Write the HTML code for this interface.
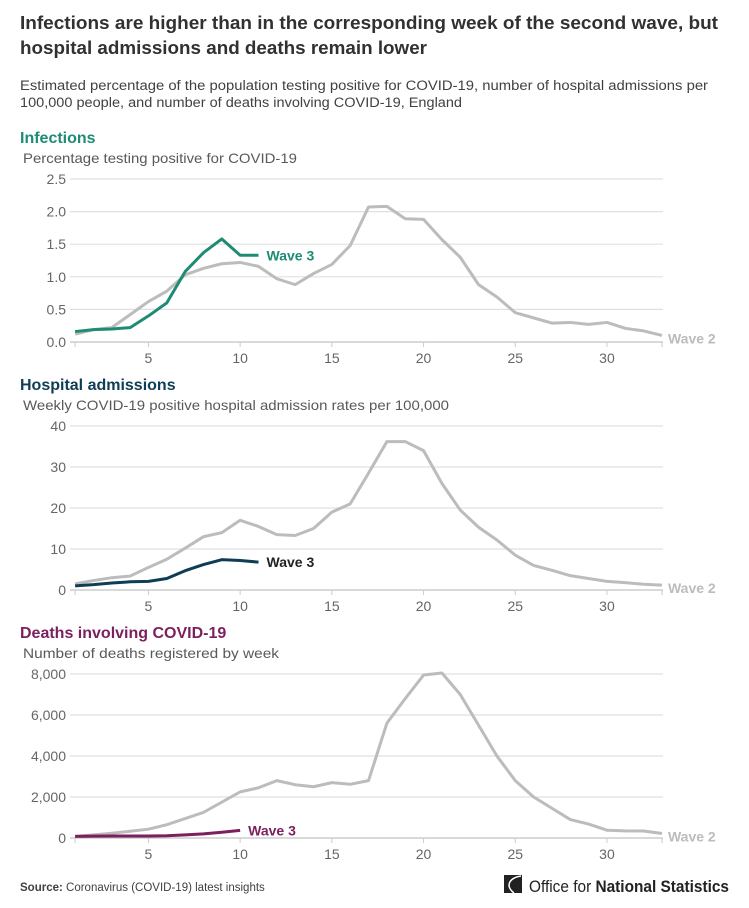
<!DOCTYPE html>
<html><head><meta charset="utf-8"><style>
html,body{margin:0;padding:0;background:#fff;}
svg{display:block;font-family:"Liberation Sans",sans-serif;}
</style></head><body>
<svg id="chart" width="749" height="908" viewBox="0 0 749 908" xmlns="http://www.w3.org/2000/svg">
<text x="20" y="29" font-size="18" font-weight="bold" fill="#323132" textLength="698" lengthAdjust="spacingAndGlyphs">Infections are higher than in the corresponding week of the second wave, but</text>
<text x="20" y="54" font-size="18" font-weight="bold" fill="#323132" textLength="407" lengthAdjust="spacingAndGlyphs">hospital admissions and deaths remain lower</text>
<text x="20" y="90" font-size="13.5" fill="#414042" textLength="688" lengthAdjust="spacingAndGlyphs">Estimated percentage of the population testing positive for COVID-19, number of hospital admissions per</text>
<text x="20" y="107" font-size="13.5" fill="#414042" textLength="442" lengthAdjust="spacingAndGlyphs">100,000 people, and number of deaths involving COVID-19, England</text>
<g id="panels"></g>
<text x="20" y="891" font-size="11.5" fill="#414042"><tspan font-weight="bold">Source:</tspan> Coronavirus (COVID-19) latest insights</text>
<g>
<rect x="504" y="875" width="18" height="18" fill="#222"/>
<path d="M521 876 C509 878 505 886 514 893" stroke="#fff" stroke-width="1.5" fill="none"/>
<text x="529" y="892" font-size="17" fill="#222" textLength="200" lengthAdjust="spacingAndGlyphs">Office for <tspan font-weight="bold">National Statistics</tspan></text>
</g>
</svg>
<script>
const weeks = [1,2,3,4,5,6,7,8,9,10,11,12,13,14,15,16,17,18,19,20,21,22,23,24,25,26,27,28,29,30,31,32,33];
const xTicks = [5,10,15,20,25,30];
const infWave2 = [0.12,0.19,0.22,0.42,0.62,0.78,1.03,1.13,1.2,1.22,1.16,0.97,0.88,1.05,1.19,1.48,2.07,2.08,1.89,1.88,1.57,1.3,0.88,0.69,0.45,0.37,0.29,0.30,0.27,0.30,0.21,0.17,0.1];
const infWave3 = [0.16,0.19,0.2,0.22,0.4,0.6,1.08,1.37,1.58,1.33,1.33];
const infTicks = [0,0.5,1.0,1.5,2.0,2.5];
const infTickLabels = ["0.0","0.5","1.0","1.5","2.0","2.5"];
const hospWave2 = [1.5,2.3,3,3.4,5.5,7.5,10.2,13,14,17,15.5,13.5,13.3,15,19,21,28.5,36.2,36.2,34,26,19.5,15.3,12.2,8.5,6,4.8,3.5,2.8,2.1,1.8,1.4,1.2];
const hospWave3 = [1,1.3,1.7,2,2.1,2.8,4.7,6.2,7.4,7.2,6.8];
const hospTicks = [0,10,20,30,40];
const hospTickLabels = ["0","10","20","30","40"];
const deathWave2 = [80,150,230,330,430,650,950,1250,1750,2250,2450,2800,2600,2500,2700,2620,2800,5600,6800,7950,8050,7000,5500,4000,2800,2000,1450,900,680,380,350,340,220];
const deathWave3 = [80,90,100,100,100,110,150,200,280,370];
const deathTicks = [0,2000,4000,6000,8000];
const deathTickLabels = ["0","2,000","4,000","6,000","8,000"];

const NS="http://www.w3.org/2000/svg";
const root=document.getElementById('panels');
function mk(tag,attrs,parent){const e=document.createElementNS(NS,tag);for(const k in attrs)e.setAttribute(k,attrs[k]);(parent||root).appendChild(e);return e;}
const X=w=>75.1+(w-1)*18.34;

function panel(o){
  const g=mk('g',{});
  
  
  const ymax=o.ticks[o.ticks.length-1];
  const Y=v=>o.y0-(v/ymax)*(o.y0-o.yTop);
  let t=mk('text',{x:20,y:o.titleY,'font-size':16,'font-weight':'bold',fill:o.color},g);t.textContent=o.title;
  
  
  t=mk('text',{x:23,y:o.titleY+20,'font-size':14,fill:'#58595b',textLength:o.subLen,lengthAdjust:'spacingAndGlyphs'},g);t.textContent=o.sub;
  
  
  o.ticks.forEach((v,i)=>{
    const l=mk('line',{x1:70,x2:663,y1:Y(v),y2:Y(v),stroke:'#e0e0e0','stroke-width':1.2},g);
    
    
    const tt=mk('text',{x:66,y:Y(v)+5,'font-size':14,fill:'#666','text-anchor':'end'},g);tt.textContent=o.labels[i];
    
    
  });
  mk('line',{x1:70,x2:663,y1:o.y0,y2:o.y0,stroke:'#bbb','stroke-width':1},g);
  xTicks.forEach(w=>{
    mk('line',{x1:X(w),x2:X(w),y1:o.y0,y2:o.y0+5,stroke:'#ccc'},g);
    const tt=mk('text',{x:X(w),y:o.y0+21,'font-size':14,fill:'#666','text-anchor':'middle'},g);tt.textContent=w;
    
    
  });
  mk('line',{x1:X(1),x2:X(1),y1:o.y0,y2:o.y0+5,stroke:'#ccc'},g);
  mk('line',{x1:X(33),x2:X(33),y1:o.y0,y2:o.y0+5,stroke:'#ccc'},g);
  const pts=arr=>arr.map((v,i)=>X(weeks[i])+','+Y(v)).join(' ');
  const p2=mk('polyline',{points:pts(o.w2),fill:'none',stroke:'#bcbcbc','stroke-width':3,'stroke-linejoin':'round'},g);
  
  
  const p3=mk('polyline',{points:pts(o.w3),fill:'none',stroke:o.color,'stroke-width':3,'stroke-linejoin':'round'},g);
  
  
  const n2=o.w2.length-1, n3=o.w3.length-1;
  t=mk('text',{x:X(weeks[n2])+6,y:Y(o.w2[n2])+8,'font-size':14,'font-weight':'bold',fill:'#bcbcbc'},g);t.textContent='Wave 2';
  
  
  t=mk('text',{x:X(weeks[n3])+8,y:Y(o.w3[n3])+5,'font-size':14,'font-weight':'bold',fill:o.dark||o.color},g);t.textContent='Wave 3';
  
  
}
panel({name:'infections',title:'Infections',sub:'Percentage testing positive for COVID-19',subLen:274,color:'#1e8c75',titleY:143,yTop:179,y0:342,ticks:infTicks,labels:infTickLabels,w2:infWave2,w3:infWave3});
panel({name:'hospital',title:'Hospital admissions',sub:'Weekly COVID-19 positive hospital admission rates per 100,000',subLen:426,color:'#0f3d55',dark:'#222',titleY:390,yTop:426,y0:590,ticks:hospTicks,labels:hospTickLabels,w2:hospWave2,w3:hospWave3});
panel({name:'deaths',title:'Deaths involving COVID-19',sub:'Number of deaths registered by week',subLen:256,color:'#7c1f5d',titleY:638,yTop:674,y0:838,ticks:deathTicks,labels:deathTickLabels,w2:deathWave2,w3:deathWave3});
</script>
</body></html>
